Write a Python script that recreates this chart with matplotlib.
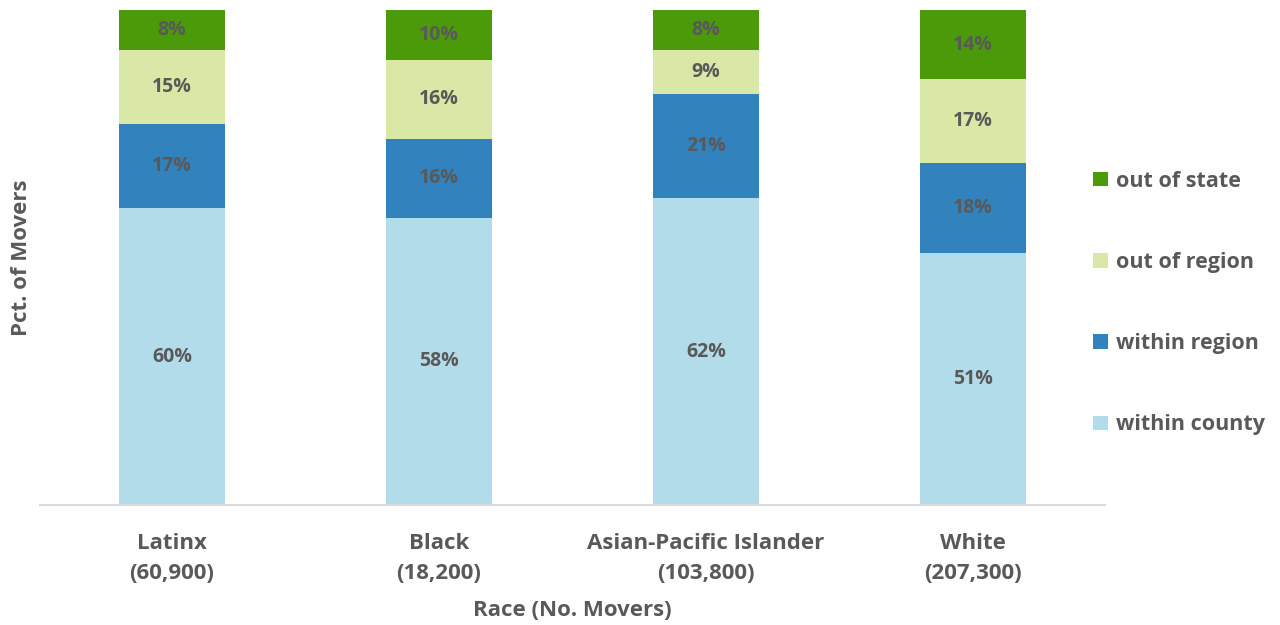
import matplotlib.pyplot as plt
import numpy as np

plt.rcParams['font.family'] = ['Open Sans', 'DejaVu Sans']

races = ["Latinx\n(60,900)", "Black\n(18,200)", "Asian-Pacific Islander\n(103,800)", "White\n(207,300)"]
within_county = [60, 58, 62, 51]
within_region = [17, 16, 21, 18]
out_of_region = [15, 16, 9, 17]
out_of_state = [8, 10, 8, 14]

series = [
    ("within county", within_county, "#b3dcea"),
    ("within region", within_region, "#3282bd"),
    ("out of region", out_of_region, "#d9e8a6"),
    ("out of state", out_of_state, "#4a9a0a"),
]

text_color = "#595959"

fig = plt.figure(figsize=(12.8, 6.25), dpi=100)
ax = fig.add_axes([0.03125, 0.192, 0.832, 0.792])

x = np.arange(len(races))
bottom = np.zeros(len(races))
handles = []
for name, values, color in series:
    values = np.array(values, dtype=float)
    bars = ax.bar(x, values, width=0.40, bottom=bottom, color=color, label=name)
    handles.append(bars)
    for xi, b, v in zip(x, bottom, values):
        ax.text(xi, b + v / 2, f"{v:.0f}%", ha="center", va="center",
                fontsize=14, fontweight="bold", color=text_color)
    bottom += values

ax.set_xlim(-0.494, 3.494)
ax.set_ylim(0, 100)
ax.set_yticks([])
ax.set_xticks(x)
ax.set_xticklabels(races, fontsize=16, fontweight="bold", color=text_color,
                   linespacing=1.55)
ax.tick_params(axis="x", length=0, pad=20)

for side in ["top", "right", "left"]:
    ax.spines[side].set_visible(False)
ax.spines["bottom"].set_color("#d9d9d9")
ax.spines["bottom"].set_linewidth(1.5)

ax.set_xlabel("Race (No. Movers)", fontsize=16, fontweight="bold", color=text_color, labelpad=12)
ax.set_ylabel("Pct. of Movers", fontsize=16, fontweight="bold", color=text_color, labelpad=6)

legend = ax.legend(handles[::-1], [s[0] for s in series][::-1],
                   loc="center left", bbox_to_anchor=(0.981, 0.408), frameon=False,
                   borderaxespad=0, handlelength=0.67, handleheight=0.67,
                   handletextpad=0.38, labelspacing=2.8, fontsize=15.5)
for t in legend.get_texts():
    t.set_color(text_color)
    t.set_fontweight("bold")

fig.savefig("out.png", dpi=100)
